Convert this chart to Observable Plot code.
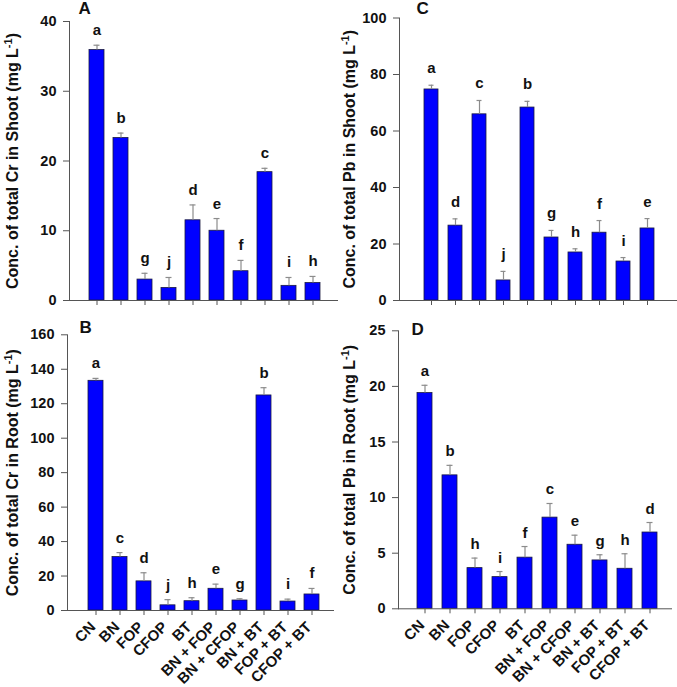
<!DOCTYPE html>
<html><head><meta charset="utf-8">
<script src="https://cdn.jsdelivr.net/npm/d3@7"></script>
<script src="https://cdn.jsdelivr.net/npm/@observablehq/plot@0.6"></script>
<style>
body{margin:0;background:#fff;}
#wrap{position:relative;width:677px;height:687px;overflow:hidden;font-family:"Liberation Sans",Arial,sans-serif;}
#wrap > div{position:absolute;}
</style></head><body><div id="wrap"></div>
<script>
const treatments = ["CN","BN","FOP","CFOP","BT","BN + FOP","BN + CFOP","BN + BT","FOP + BT","CFOP + BT"];

// A: total Cr in shoot
const crShoot = [35.9, 23.3, 3.0, 1.8, 11.5, 10.0, 4.2, 18.4, 2.1, 2.5];
const crShootErr = [0.7, 0.7, 0.9, 1.5, 2.2, 1.75, 1.55, 0.55, 1.2, 0.95];
const crShootLetters = ["a","b","g","j","d","e","f","c","i","h"];
const crShootTicks = [0, 10, 20, 30, 40];

// C: total Pb in shoot
const pbShoot = [74.7, 26.5, 65.9, 7.1, 68.3, 22.3, 17.0, 24.0, 13.8, 25.5];
const pbShootErr = [1.5, 2.4, 4.9, 3.2, 2.2, 2.5, 1.3, 4.3, 1.4, 3.5];
const pbShootLetters = ["a","d","c","j","b","g","h","f","i","e"];
const pbShootTicks = [0, 20, 40, 60, 80, 100];

// B: total Cr in root
const crRoot = [133.3, 31.0, 16.9, 3.0, 5.4, 12.6, 5.8, 124.8, 5.2, 9.3];
const crRootErr = [1.4, 2.6, 5.0, 3.3, 2.0, 2.7, 1.0, 4.5, 1.4, 3.5];
const crRootLetters = ["a","c","d","j","h","e","g","b","i","f"];
const crRootTicks = [0, 20, 40, 60, 80, 100, 120, 140, 160];

// D: total Pb in root
const pbRoot = [19.4, 12.0, 3.66, 2.85, 4.6, 8.2, 5.76, 4.35, 3.6, 6.86];
const pbRootErr = [0.7, 0.9, 0.9, 0.5, 1.0, 1.27, 0.86, 0.51, 1.35, 0.9];
const pbRootLetters = ["a","b","h","i","f","c","e","g","h","d"];
const pbRootTicks = [0, 5, 10, 15, 20, 25];

const FONT = '"Liberation Sans", Arial, Helvetica, sans-serif';
const AXIS = "#555";
const ERR = "#8c8c8c";

function panel(cfg) {
  const data = treatments.map((t, i) => ({
    t, v: cfg.values[i], top: cfg.values[i] + cfg.errs[i], l: cfg.letters[i]
  }));
  const W = cfg.width, H = cfg.height;
  const plot = Plot.plot({
    width: W, height: H,
    marginLeft: cfg.axisX - cfg.left,
    marginRight: cfg.left + W - cfg.axisRight,
    marginTop: cfg.yTop - cfg.top,
    marginBottom: cfg.top + H - cfg.y0,
    style: {fontFamily: FONT, background: "transparent", overflow: "visible", color: "#000"},
    x: {type: "band", domain: treatments, paddingInner: cfg.pi, paddingOuter: cfg.po, align: cfg.align},
    y: {domain: [cfg.ticks[0], cfg.ticks[cfg.ticks.length - 1]]},
    marks: [
      Plot.barY(data, {x: "t", y: "v", fill: "#0000ff", stroke: "#1a1a40", strokeWidth: 0.8}),
      Plot.ruleX(data, {x: "t", y1: "v", y2: "top", stroke: ERR, strokeWidth: 1.2}),
      Plot.tickY(data, {x: "t", y: "top", stroke: ERR, strokeWidth: 1.2, insetLeft: 4.5, insetRight: 4.5}),
      Plot.text(data, {x: "t", y: "top", text: "l", dy: cfg.letterDy, lineAnchor: "bottom",
        fontSize: 15, fontWeight: "bold", fill: "#111"}),
      Plot.frame({anchor: "left", stroke: AXIS}),
      Plot.frame({anchor: "bottom", stroke: AXIS}),
      Plot.axisY({ticks: cfg.ticks, tickSize: 6, tickPadding: 7, fontSize: 14.5, fontWeight: "bold",
        stroke: AXIS, fill: "#111",
        label: cfg.label, labelAnchor: "center", labelArrow: "none", labelOffset: cfg.labelOffset}),
      Plot.axisX({tickSize: 5, tickPadding: 4, stroke: AXIS, fill: "#111", fontSize: 15, fontWeight: "bold",
        tickRotate: cfg.showX ? -45 : 0, label: null,
        tickFormat: cfg.showX ? (d => d) : (() => null)}),
      Plot.text([cfg.panelLetter], {frameAnchor: "top-left", dx: cfg.pdx, dy: cfg.pdy,
        lineAnchor: "middle", textAnchor: "start", fontSize: 17, fontWeight: "bold", fill: "#111"})
    ]
  });
  // larger axis title with a superscript unit
  plot.querySelectorAll("text").forEach(t => {
    if (t.textContent.includes("⁻¹")) {
      const s = t.textContent;
      const parts = s.split("⁻¹");
      t.setAttribute("font-size", "16");
      t.style.fontSize = "16px";
      const tgt = t.querySelector("tspan") || t;
      tgt.textContent = "";
      tgt.appendChild(document.createTextNode(parts[0]));
      const sup = document.createElementNS("http://www.w3.org/2000/svg", "tspan");
      sup.setAttribute("baseline-shift", "super");
      sup.setAttribute("font-size", "11");
      sup.textContent = "-1";
      tgt.appendChild(sup);
      tgt.appendChild(document.createTextNode(parts[1]));
    }
  });
  // nudge rotated category labels slightly down-left, as in the reference
  if (cfg.showX) {
    const g = plot.querySelector('[aria-label="x-axis tick label"]');
    if (g) {
      const prev = g.getAttribute("transform") || "";
      g.setAttribute("transform", prev + " translate(-3,5)");
    }
  }
  const div = document.createElement("div");
  div.style.left = cfg.left + "px";
  div.style.top = cfg.top + "px";
  div.appendChild(plot);
  document.getElementById("wrap").appendChild(div);
}

panel({values: crShoot, errs: crShootErr, letters: crShootLetters, ticks: crShootTicks,
  label: "Conc. of total Cr in Shoot (mg L⁻¹)", panelLetter: "A",
  left: 0, top: 0, width: 338, height: 312, axisX: 69, axisRight: 337, yTop: 21, y0: 300,
  pi: 0.385, po: 0.68, align: 0.53, letterDy: -10, labelOffset: 63, pdx: 9, pdy: -13, showX: false});

panel({values: pbShoot, errs: pbShootErr, letters: pbShootLetters, ticks: pbShootTicks,
  label: "Conc. of total Pb in Shoot (mg L⁻¹)", panelLetter: "C",
  left: 338, top: 0, width: 339, height: 312, axisX: 399, axisRight: 676, yTop: 17.5, y0: 300,
  pi: 0.4, po: 0.76, align: 0.54, letterDy: -12, labelOffset: 56, pdx: 17, pdy: -9.5, showX: false});

panel({values: crRoot, errs: crRootErr, letters: crRootLetters, ticks: crRootTicks,
  label: "Conc. of total Cr in Root (mg L⁻¹)", panelLetter: "B",
  left: 0, top: 312, width: 338, height: 375, axisX: 67, axisRight: 333, yTop: 334.3, y0: 610,
  pi: 0.39, po: 0.61, align: 0.59, letterDy: -10, labelOffset: 61, pdx: 12, pdy: -7, showX: true});

panel({values: pbRoot, errs: pbRootErr, letters: pbRootLetters, ticks: pbRootTicks,
  label: "Conc. of total Pb in Root (mg L⁻¹)", panelLetter: "D",
  left: 338, top: 312, width: 339, height: 375, axisX: 398, axisRight: 671, yTop: 330.3, y0: 608.3,
  pi: 0.4, po: 0.62, align: 0.58, letterDy: -9, labelOffset: 55, pdx: 13, pdy: -1.5, showX: true});
</script></body></html>
